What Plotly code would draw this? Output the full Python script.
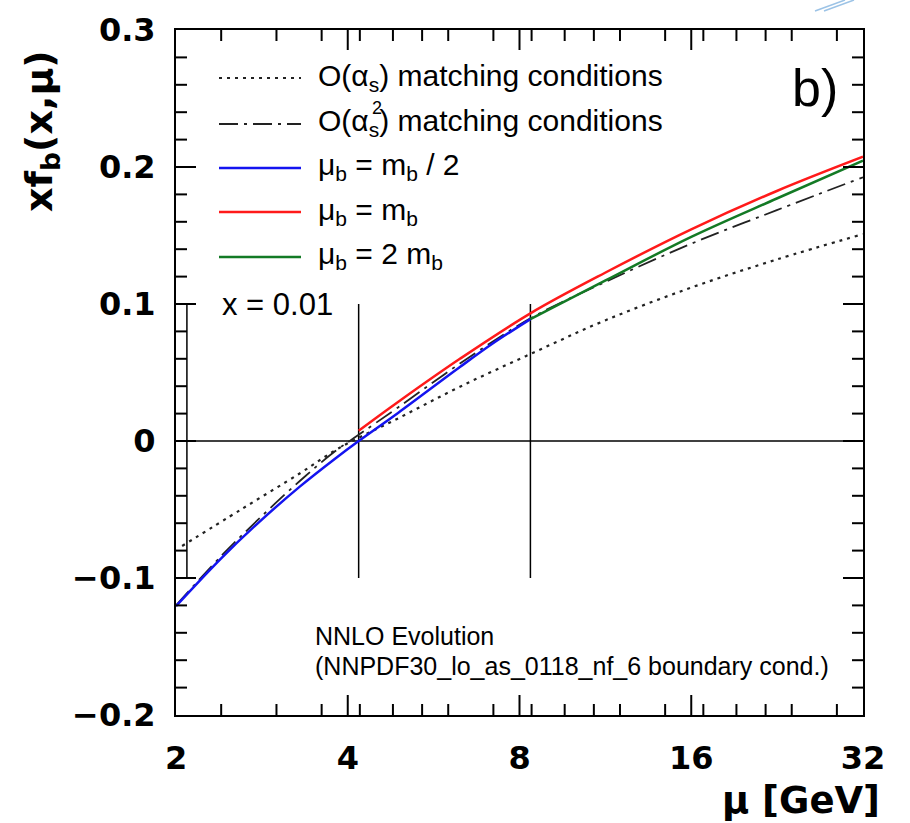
import numpy as np
import plotly.graph_objects as go

# ---------------- data ----------------
mb = 4.18
vline_mu = [mb / 2, mb, 2 * mb]
vline_y = [-0.1, 0.1]

mu_o1 = [2.05, 2.6, 3.3, 3.85, 4.9, 6.29, 8.36, 11.3, 16.0, 22.6, 32.0]
xf_o1 = [-0.0766, -0.050, -0.0235, -0.0055, 0.0165, 0.0396, 0.0635, 0.088, 0.112, 0.1325, 0.151]

mu_o2 = [2.0, 2.4, 2.8, 3.3, 3.8, 4.18, 4.9, 6.29, 8.36, 11.3, 16.0, 22.6, 32.0]
xf_o2 = [-0.1200, -0.0840, -0.0565, -0.0290, -0.0075, 0.0045, 0.0245, 0.0565, 0.0895,
         0.1160, 0.1440, 0.1685, 0.1925]

mu_half = [2.0, 2.4, 2.8, 3.3, 3.8, 4.18, 4.9, 6.29, 7.2, 8.36]
xf_half = [-0.1205, -0.0856, -0.0590, -0.0331, -0.0129, 0.0, 0.0205, 0.054, 0.0715, 0.089]

mu_one = [4.18, 4.9, 6.29, 8.36, 11.3, 16.0, 22.6, 32.0]
xf_one = [0.0075, 0.0285, 0.060, 0.0932, 0.1228, 0.1545, 0.1825, 0.2075]

mu_two = [8.36, 11.3, 16.0, 22.6, 32.0]
xf_two = [0.089, 0.1170, 0.1490, 0.1770, 0.2046]

x_ticks = [2, 4, 8, 16, 32]
x_ticktext = ["2", "4", "8", "16", "32"]
x_minor = [2.4, 3.0, 3.6, 4.2, 4.8, 5.4, 6.0, 7.2, 8.4, 9.6, 10.8, 12.0, 14.4,
           16.8, 19.2, 21.6, 24.0, 28.8]
y_ticks = [-0.2, -0.1, 0.0, 0.1, 0.2, 0.3]
y_ticktext = ["\u22120.2", "\u22120.1", "0", "0.1", "0.2", "0.3"]
y_minor_step = 0.02

legend_labels = ["O(\u03b1<sub>s</sub>) matching conditions",
                 "O(\u03b1<sub>s</sub>) matching conditions",
                 "\u03bc<sub>b</sub> = m<sub>b</sub> / 2",
                 "\u03bc<sub>b</sub> = m<sub>b</sub>",
                 "\u03bc<sub>b</sub> = 2 m<sub>b</sub>"]

# ---------------- styles ----------------
W, H = 910, 823
L, R, T, B = 176, 47, 30, 108
PW, PH = W - L - R, H - T - B
BLUE, RED, GREEN = "#1414f0", "#ff1a1a", "#137a25"
DOT = dict(color="#222222", width=2.2, dash="3px,5px")
DASHDOT = dict(color="#222222", width=1.8, dash="19px,6px,3px,6px")
LAB_FONT = "Liberation Sans, Arial, sans-serif"
BOLD_FONT = "DejaVu Sans, sans-serif"
MAJOR_LEN, MINOR_LEN = 20, 11
TICK_LINE = dict(color="black", width=2)


def px_x(p):
    return (p - L) / PW


def px_y(p):
    return (H - B - p) / PH


x_lo, x_hi = x_ticks[0], x_ticks[-1]
y_lo, y_hi = y_ticks[0], y_ticks[-1]
lx_lo, lx_hi = np.log10(x_lo), np.log10(x_hi)

fig = go.Figure()

# reference lines
fig.add_trace(go.Scatter(x=[x_lo, x_hi], y=[0, 0], mode="lines",
                         line=dict(color="black", width=1.5), showlegend=False,
                         hoverinfo="skip"))
for v in vline_mu:
    fig.add_trace(go.Scatter(x=[v, v], y=vline_y, mode="lines",
                             line=dict(color="black", width=1.5), showlegend=False,
                             hoverinfo="skip"))

# curves
fig.add_trace(go.Scatter(x=mu_o1, y=xf_o1, mode="lines", line=dict(shape="spline", **DOT),
                         showlegend=False))
fig.add_trace(go.Scatter(x=mu_o2, y=xf_o2, mode="lines", line=dict(shape="spline", **DASHDOT),
                         showlegend=False))
fig.add_trace(go.Scatter(x=mu_half, y=xf_half, mode="lines",
                         line=dict(shape="spline", color=BLUE, width=2.5), showlegend=False))
fig.add_trace(go.Scatter(x=mu_one, y=xf_one, mode="lines",
                         line=dict(shape="spline", color=RED, width=2.5), showlegend=False))
fig.add_trace(go.Scatter(x=mu_two, y=xf_two, mode="lines",
                         line=dict(shape="spline", color=GREEN, width=2.5), showlegend=False))

# x-axis inside tick marks (bottom and top), drawn through the axes' scales
tx, ty = [], []
for vals, ln in ((x_ticks, MAJOR_LEN), (x_minor, MINOR_LEN)):
    dy = ln / PH * (y_hi - y_lo)
    for v in vals:
        if v <= x_lo or v >= x_hi:
            continue
        tx += [v, v, None, v, v, None]
        ty += [y_lo, y_lo + dy, None, y_hi - dy, y_hi, None]
fig.add_trace(go.Scatter(x=tx, y=ty, mode="lines", line=TICK_LINE, showlegend=False,
                         hoverinfo="skip", connectgaps=False, cliponaxis=False))

# y-axis inside tick marks (left and right)
n_minor = int(round((y_hi - y_lo) / y_minor_step))
y_minor = [round(y_lo + i * y_minor_step, 4) for i in range(1, n_minor)]
for vals, ln in ((y_ticks, MAJOR_LEN), (y_minor, MINOR_LEN)):
    for v in vals:
        if v <= y_lo or v >= y_hi:
            continue
        fig.add_shape(type="line", xref="paper", yref="y", x0=0, x1=ln / PW,
                      y0=v, y1=v, line=TICK_LINE)
        fig.add_shape(type="line", xref="paper", yref="y", x0=1 - ln / PW, x1=1,
                      y0=v, y1=v, line=TICK_LINE)

# manual legend
rows_y = [78, 124, 168, 212, 257]
styles = [DOT, DASHDOT, dict(color=BLUE, width=2.5), dict(color=RED, width=2.5),
          dict(color=GREEN, width=2.5)]
for ry, st, lab in zip(rows_y, styles, legend_labels):
    fig.add_shape(type="line", xref="paper", yref="paper",
                  x0=px_x(219), x1=px_x(301), y0=px_y(ry), y1=px_y(ry), line=st)
    fig.add_annotation(x=px_x(316), y=px_y(ry - 1), xref="paper", yref="paper",
                       text=lab, showarrow=False, xanchor="left", yanchor="middle",
                       font=dict(family=LAB_FONT, size=30, color="black"))
# stacked superscript of the second legend entry
fig.add_annotation(x=px_x(377), y=px_y(108), xref="paper", yref="paper", text="2",
                   showarrow=False, xanchor="center", yanchor="middle",
                   font=dict(family=LAB_FONT, size=18, color="black"))

# texts
fig.add_annotation(x=px_x(220), y=px_y(305), xref="paper", yref="paper", text="x = 0.01",
                   showarrow=False, xanchor="left", yanchor="middle",
                   font=dict(family=LAB_FONT, size=31, color="black"))
fig.add_annotation(x=px_x(840), y=px_y(88), xref="paper", yref="paper", text="b)",
                   showarrow=False, xanchor="right", yanchor="middle",
                   font=dict(family=LAB_FONT, size=52, color="black"))
fig.add_annotation(x=px_x(313), y=px_y(636), xref="paper", yref="paper",
                   text="NNLO Evolution", showarrow=False, xanchor="left",
                   yanchor="middle", font=dict(family=LAB_FONT, size=25, color="black"))
fig.add_annotation(x=px_x(313), y=px_y(666), xref="paper", yref="paper",
                   text="(NNPDF30_lo_as_0118_nf_6 boundary cond.)", showarrow=False,
                   xanchor="left", yanchor="middle",
                   font=dict(family=LAB_FONT, size=25, color="black"))
fig.add_annotation(x=px_x(882), y=px_y(800), xref="paper", yref="paper",
                   text="<b>\u03bc [GeV]</b>", showarrow=False, xanchor="right",
                   yanchor="middle", font=dict(family=BOLD_FONT, size=37, color="black"))
fig.add_annotation(x=px_x(41), y=px_y(48), xref="paper", yref="paper",
                   text="<b>xf<sub>b</sub>(x,\u03bc)</b>", showarrow=False, textangle=-90,
                   xanchor="center", yanchor="top",
                   font=dict(family=BOLD_FONT, size=38, color="black"))

# small light-blue artefact at the top
for dx in (0, 9):
    fig.add_shape(type="line", xref="paper", yref="paper",
                  x0=px_x(815 + dx), x1=px_x(845 + dx), y0=px_y(11), y1=px_y(0),
                  line=dict(color="#9cc3e6", width=1.5))

frame = dict(showline=True, linewidth=2, linecolor="black", mirror=True,
             showgrid=False, zeroline=False)
bold_tick = dict(family=BOLD_FONT, size=32, color="black", weight="bold")

fig.update_layout(
    width=W, height=H,
    margin=dict(l=L, r=R, t=T, b=B),
    paper_bgcolor="white", plot_bgcolor="white",
    showlegend=False,
    xaxis=dict(type="log", range=[lx_lo, lx_hi], tickmode="array",
               tickvals=x_ticks, ticktext=x_ticktext, ticks="outside", ticklen=14,
               tickwidth=1, tickcolor="white", tickfont=bold_tick, **frame),
    yaxis=dict(range=[y_lo, y_hi], tickmode="array", tickvals=y_ticks,
               ticktext=y_ticktext, ticks="outside", ticklen=12, tickwidth=1,
               tickcolor="white", tickfont=bold_tick, **frame),
)

fig.write_html("out.html")
